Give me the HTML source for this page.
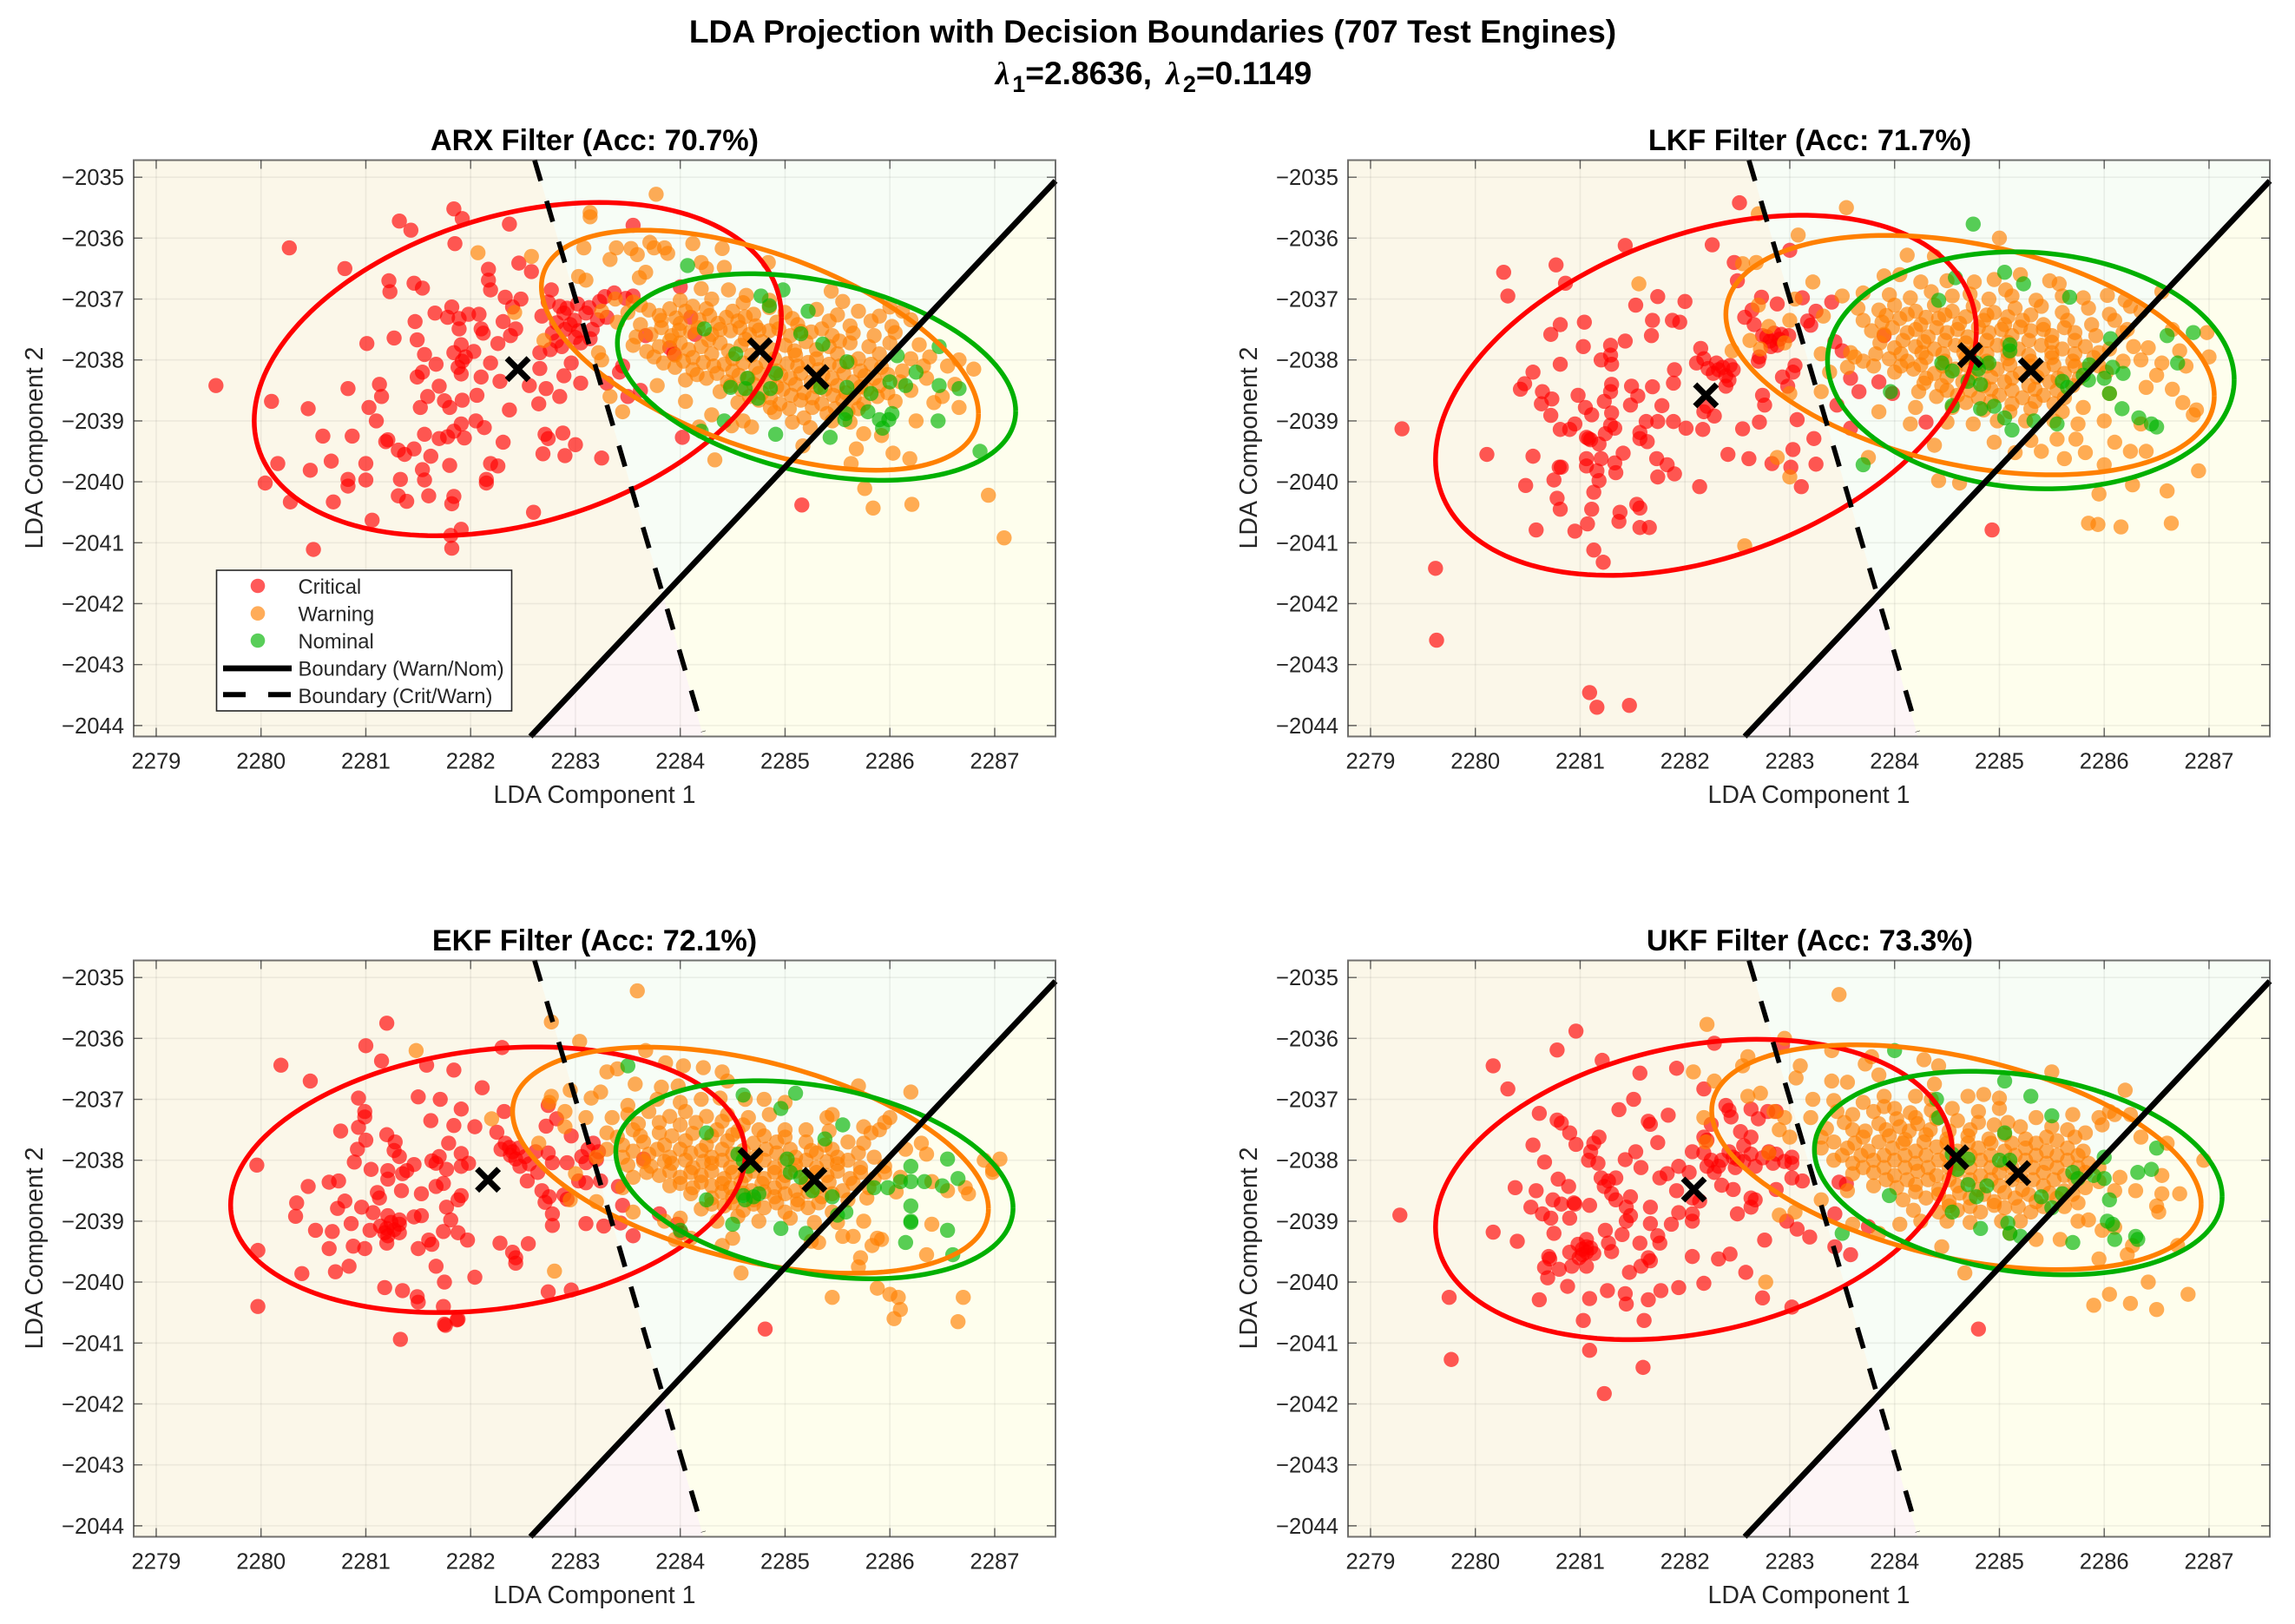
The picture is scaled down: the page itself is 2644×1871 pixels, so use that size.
<!DOCTYPE html>
<html lang="en">
<head>
<meta charset="utf-8">
<title>LDA Projection with Decision Boundaries</title>
<style>
html,body{margin:0;padding:0;background:#fff;}
svg{display:block;}
text{font-family:"Liberation Sans",sans-serif;}
.suptitle{font-size:37.2px;font-weight:bold;fill:#000;text-anchor:middle;}
.ptitle{font-size:34.2px;font-weight:bold;fill:#000;text-anchor:middle;}
.alabel{font-size:28.5px;fill:#262626;text-anchor:middle;}
.legtext{font-size:23.8px;fill:#262626;}
</style>
</head>
<body>
<svg id="figure" xmlns="http://www.w3.org/2000/svg" width="2644" height="1871" viewBox="0 0 2644 1871">
<rect x="0" y="0" width="2644" height="1871" fill="#fff"/>
<text class="suptitle" x="1328" y="49">LDA Projection with Decision Boundaries (707 Test Engines)</text>
<text class="suptitle" x="1329" y="97"><tspan style="font-family:'Liberation Serif',serif;font-style:italic">λ</tspan><tspan dx="3" dy="9" font-size="27">1</tspan><tspan dy="-9">=2.8636, </tspan><tspan dx="6" style="font-family:'Liberation Serif',serif;font-style:italic">λ</tspan><tspan dx="3" dy="9" font-size="27">2</tspan><tspan dy="-9">=0.1149</tspan></text>

<g id="panel-arx">
<text class="ptitle" x="685" y="173">ARX Filter (Acc: 70.7%)</text>
<text class="alabel" x="685" y="925">LDA Component 1</text>
<text class="alabel" transform="translate(49 516) rotate(-90)">LDA Component 2</text>
</g>
<g id="panel-lkf">
<text class="ptitle" x="2085" y="173">LKF Filter (Acc: 71.7%)</text>
<text class="alabel" x="2084" y="925">LDA Component 1</text>
<text class="alabel" transform="translate(1448 516) rotate(-90)">LDA Component 2</text>
</g>
<g id="panel-ekf">
<text class="ptitle" x="685" y="1095">EKF Filter (Acc: 72.1%)</text>
<text class="alabel" x="685" y="1847">LDA Component 1</text>
<text class="alabel" transform="translate(49 1438) rotate(-90)">LDA Component 2</text>
</g>
<g id="panel-ukf">
<text class="ptitle" x="2085" y="1095">UKF Filter (Acc: 73.3%)</text>
<text class="alabel" x="2084" y="1847">LDA Component 1</text>
<text class="alabel" transform="translate(1448 1438) rotate(-90)">LDA Component 2</text>
</g>

<g id="legend">
<rect x="249.5" y="657" width="340" height="162" fill="#fff" stroke="#262626" stroke-width="1.6"/>
<circle cx="297" cy="675" r="8.3" fill="#ff0000" fill-opacity="0.65"/>
<circle cx="297" cy="706.7" r="8.3" fill="#ff8000" fill-opacity="0.65"/>
<circle cx="297" cy="738" r="8.3" fill="#00b400" fill-opacity="0.65"/>
<line x1="257" y1="770" x2="336" y2="770" stroke="#000" stroke-width="6.7"/>
<line x1="257" y1="800.3" x2="336" y2="800.3" stroke="#000" stroke-width="6" stroke-dasharray="26 26"/>
<text class="legtext" x="343.5" y="684">Critical</text>
<text class="legtext" x="343.5" y="715.5">Warning</text>
<text class="legtext" x="343.5" y="747">Nominal</text>
<text class="legtext" x="343.5" y="778.5">Boundary (Warn/Nom)</text>
<text class="legtext" x="343.5" y="810">Boundary (Crit/Warn)</text>
</g>
</svg>

<script>
const xTicks=[2279,2280,2281,2282,2283,2284,2285,2286,2287];
const yTicks=[-2035,-2036,-2037,-2038,-2039,-2040,-2041,-2042,-2043,-2044];
const xTickLabels=["2279","2280","2281","2282","2283","2284","2285","2286","2287"];
const yTickLabels=["\u22122035","\u22122036","\u22122037","\u22122038","\u22122039","\u22122040","\u22122041","\u22122042","\u22122043","\u22122044"];
const xLimits=[2278.785,2287.58];
const yLimits=[-2044.18,-2034.72];

const boundaryWarnNom=[[2282.57,-2044.18],[2287.58,-2035.06]];
const boundaryCritWarn=[[2282.61,-2034.72],[2284.22,-2044.1]];

/* ellipse: centre x, centre y, half-width, half-height, correlation */
const arxEllipseCritical=[2282.45,-2038.15,2.515,2.735,0.31];
const arxEllipseWarning=[2284.76,-2037.84,2.085,1.97,-0.53];
const arxEllipseNominal=[2285.3,-2038.28,1.9,1.695,-0.33];
const lkfEllipseCritical=[2282.2,-2038.58,2.58,2.955,0.357];
const lkfEllipseWarning=[2284.72,-2037.92,2.33,1.965,-0.34];
const lkfEllipseNominal=[2285.3,-2038.17,1.94,1.945,-0.08];
const ekfEllipseCritical=[2282.165,-2038.32,2.455,2.18,0.19];
const ekfEllipseWarning=[2284.67,-2038.0,2.27,1.855,-0.43];
const ekfEllipseNominal=[2285.28,-2038.32,1.895,1.625,-0.285];
const ukfEllipseCritical=[2282.085,-2038.48,2.465,2.465,0.25];
const ukfEllipseWarning=[2284.59,-2037.95,2.335,1.845,-0.415];
const ukfEllipseNominal=[2285.18,-2038.21,1.945,1.67,-0.23];

const arxCritical=[[2281.84,-2035.52],[2281.92,-2035.68],[2281.32,-2035.72],[2281.43,-2035.87],[2282.37,-2035.77],[2280.27,-2036.16],[2281.85,-2036.09],[2283.55,-2035.79],[2280.8,-2036.5],[2282.17,-2036.51],[2282.46,-2036.41],[2282.58,-2036.55],[2282.17,-2036.69],[2281.22,-2036.7],[2281.46,-2036.74],[2281.54,-2036.82],[2281.23,-2036.88],[2282.19,-2036.85],[2282.33,-2036.97],[2282.48,-2037],[2282.77,-2036.85],[2281.66,-2037.23],[2281.82,-2037.13],[2281.78,-2037.3],[2281.89,-2037.32],[2281.98,-2037.25],[2282.08,-2037.25],[2281.47,-2037.37],[2281.89,-2037.49],[2282.1,-2037.49],[2282.12,-2037.56],[2282.31,-2037.37],[2282.43,-2037.49],[2282.38,-2037.6],[2282.4,-2037.13],[2281.27,-2037.64],[2281.49,-2037.67],[2281.01,-2037.73],[2282.26,-2037.73],[2281.91,-2037.75],[2281.84,-2037.88],[2282.03,-2037.86],[2281.56,-2037.91],[2281.92,-2038.02],[2282.19,-2038.05],[2281.67,-2038.07],[2282.66,-2037.88],[2282.76,-2037.83],[2282.96,-2038.05],[2281.54,-2038.2],[2281.49,-2038.28],[2281.91,-2038.23],[2282.1,-2038.28],[2282.28,-2038.35],[2282.66,-2038.14],[2282.89,-2038.26],[2283.05,-2038.38],[2282.56,-2038.42],[2282.72,-2038.47],[2279.57,-2038.42],[2280.83,-2038.47],[2281.13,-2038.4],[2281.7,-2038.43],[2281.15,-2038.6],[2281.59,-2038.6],[2282.06,-2038.58],[2280.1,-2038.68],[2281.75,-2038.67],[2281.92,-2038.66],[2281.8,-2038.78],[2281.52,-2038.78],[2280.45,-2038.8],[2281.03,-2038.78],[2282.65,-2038.72],[2282.85,-2038.6],[2282.37,-2038.82],[2282.68,-2037.28],[2282.89,-2037.23],[2282.82,-2037.39],[2282.99,-2037.35],[2283.1,-2037.23],[2283.23,-2037.04],[2283.37,-2036.9],[2283.48,-2036.99],[2283.3,-2037.3],[2282.82,-2037.69],[2283.03,-2037.52],[2283.16,-2037.5],[2283.55,-2036.95],[2283.9,-2037.8],[2283.94,-2037.9],[2284.14,-2037.58],[2284.1,-2037.3],[2284,-2036.8],[2283.14,-2037.65],[2283.45,-2038.1],[2283.42,-2038.2],[2283.67,-2037.6],[2282.92,-2037.15],[2282.95,-2037.42],[2283.05,-2037.72],[2283.3,-2038.38],[2283.5,-2038.6],[2283.62,-2038.5],[2280.59,-2039.25],[2280.87,-2039.25],[2281.1,-2039],[2281.19,-2039.34],[2281.21,-2039.31],[2281.31,-2039.48],[2281.46,-2039.46],[2281.37,-2039.55],[2281.56,-2039.22],[2281.7,-2039.29],[2281.78,-2039.26],[2281.84,-2039.17],[2281.91,-2039.05],[2281.94,-2039.28],[2282.05,-2039],[2282.13,-2039.11],[2282.31,-2039.35],[2282.71,-2039.22],[2282.74,-2039.29],[2282.88,-2039.2],[2283,-2039.39],[2282.69,-2039.54],[2282.9,-2039.57],[2283.25,-2039.61],[2280.16,-2039.7],[2280.47,-2039.81],[2280.67,-2039.66],[2281,-2039.7],[2281.62,-2039.58],[2281.8,-2039.73],[2281.54,-2039.8],[2282.19,-2039.7],[2282.26,-2039.74],[2280.83,-2039.96],[2280.83,-2040.07],[2281,-2039.97],[2281.33,-2039.96],[2281.56,-2039.97],[2282.15,-2039.96],[2282.15,-2040.02],[2280.04,-2040.02],[2280.28,-2040.33],[2280.69,-2040.33],[2281.31,-2040.23],[2281.39,-2040.32],[2281.6,-2040.23],[2281.84,-2040.24],[2281.82,-2040.36],[2282.6,-2040.5],[2281.06,-2040.63],[2281.91,-2040.78],[2281.81,-2040.88],[2281.82,-2041.09],[2280.5,-2041.11],[2284.02,-2039.27],[2285.16,-2040.38],[2282.74,-2037.05],[2282.85,-2037.12],[2283.02,-2037.08],[2283.13,-2037.14],[2283.28,-2036.96],[2282.9,-2037.5],[2282.78,-2037.56],[2283.21,-2037.34],[2283.0,-2037.63],[2282.87,-2037.78],[2281.95,-2037.95],[2281.88,-2038.12]];
const arxWarning=[[2283.77,-2035.28],[2283.14,-2035.58],[2283.14,-2035.65],[2283.08,-2036.16],[2283.39,-2036.16],[2283.53,-2036.17],[2283.71,-2036.07],[2283.75,-2036.16],[2283.85,-2036.16],[2283.88,-2036.25],[2283.59,-2036.27],[2283.33,-2036.35],[2284.12,-2036.09],[2284.4,-2036.17],[2282.07,-2036.24],[2282.58,-2036.3],[2284.84,-2036.4],[2284.2,-2036.4],[2284.42,-2036.48],[2284.25,-2036.5],[2283.67,-2036.56],[2283.61,-2036.65],[2283.03,-2036.63],[2283.1,-2036.69],[2284.2,-2036.83],[2284.46,-2036.85],[2284.63,-2036.94],[2285.44,-2036.87],[2285.55,-2037.04],[2283.38,-2037],[2283.55,-2037.05],[2284,-2037.02],[2284.3,-2037],[2284.6,-2037.06],[2284.85,-2037.02],[2283.25,-2037.2],[2283.5,-2037.22],[2283.7,-2037.18],[2283.9,-2037.16],[2284.05,-2037.2],[2284.25,-2037.16],[2284.5,-2037.2],[2284.7,-2037.25],[2285,-2037.22],[2285.3,-2037.17],[2285.5,-2037.26],[2285.7,-2037.2],[2285.9,-2037.28],[2286,-2037.13],[2286.12,-2037.2],[2282.42,-2037.22],[2283.4,-2037.38],[2283.62,-2037.42],[2283.82,-2037.35],[2284,-2037.4],[2284.18,-2037.34],[2284.36,-2037.4],[2284.55,-2037.36],[2284.72,-2037.44],[2284.92,-2037.38],[2285.12,-2037.42],[2285.42,-2037.36],[2285.62,-2037.44],[2285.82,-2037.36],[2286.02,-2037.45],[2286.2,-2037.34],[2283.72,-2037.58],[2283.92,-2037.6],[2284.1,-2037.54],[2284.3,-2037.58],[2284.48,-2037.52],[2284.66,-2037.58],[2284.85,-2037.52],[2285.05,-2037.6],[2285.25,-2037.54],[2285.45,-2037.6],[2285.65,-2037.56],[2285.85,-2037.6],[2286.05,-2037.55],[2282.7,-2037.68],[2283.22,-2037.88],[2283.55,-2037.76],[2283.8,-2037.78],[2284,-2037.72],[2284.2,-2037.78],[2284.38,-2037.72],[2284.58,-2037.76],[2284.78,-2037.7],[2285,-2037.76],[2285.2,-2037.7],[2285.42,-2037.78],[2285.62,-2037.72],[2285.8,-2037.78],[2286,-2037.72],[2286.28,-2037.75],[2283.25,-2038],[2283.75,-2037.95],[2283.95,-2037.92],[2284.12,-2037.96],[2284.3,-2037.9],[2284.5,-2037.98],[2284.68,-2037.92],[2284.9,-2037.98],[2285.1,-2037.92],[2285.3,-2037.98],[2285.5,-2037.9],[2285.7,-2037.98],[2285.9,-2037.9],[2286.2,-2037.98],[2286.38,-2037.95],[2283.95,-2038.12],[2284.12,-2038.16],[2284.32,-2038.1],[2284.5,-2038.18],[2284.72,-2038.12],[2284.92,-2038.18],[2285.12,-2038.1],[2285.32,-2038.16],[2285.52,-2038.1],[2285.72,-2038.18],[2285.92,-2038.12],[2286.12,-2038.18],[2286.32,-2038.1],[2286.55,-2038.1],[2286.66,-2038],[2286.8,-2038.15],[2284.05,-2038.33],[2284.25,-2038.3],[2284.45,-2038.36],[2284.65,-2038.3],[2284.85,-2038.36],[2285.05,-2038.3],[2285.25,-2038.36],[2285.45,-2038.3],[2285.65,-2038.36],[2285.85,-2038.3],[2286.1,-2038.36],[2286.35,-2038.3],[2286.62,-2038.4],[2283.78,-2038.42],[2284.38,-2038.52],[2284.58,-2038.48],[2284.78,-2038.54],[2284.98,-2038.48],[2285.18,-2038.54],[2285.38,-2038.48],[2285.58,-2038.54],[2285.78,-2038.48],[2285.98,-2038.54],[2286.2,-2038.5],[2286.5,-2038.6],[2283.33,-2038.6],[2284.05,-2038.68],[2284.55,-2038.7],[2284.75,-2038.66],[2284.95,-2038.72],[2285.15,-2038.66],[2285.35,-2038.72],[2285.55,-2038.66],[2285.75,-2038.72],[2286.05,-2038.68],[2286.42,-2038.7],[2286.66,-2038.78],[2283.45,-2038.85],[2284.18,-2039.1],[2284.33,-2039.64],[2284.49,-2039.08],[2284.6,-2039],[2284.68,-2039.1],[2284.3,-2038.9],[2284.9,-2038.86],[2285.07,-2039.02],[2285.24,-2039.11],[2285.4,-2038.88],[2285.6,-2038.84],[2285.17,-2039.41],[2285.68,-2039.46],[2285.75,-2039.21],[2285.92,-2039.24],[2286.03,-2039.53],[2286.19,-2039.62],[2285.63,-2039.7],[2285.76,-2040.11],[2286.21,-2040.37],[2285.84,-2040.43],[2286.94,-2040.22],[2287.09,-2040.92],[2286.25,-2039]];
const arxWarningDense=[[2283.62,-2037.1],[2283.8,-2037.27],[2283.96,-2037.31],[2284.12,-2037.12],[2284.28,-2037.27],[2284.44,-2037.3],[2284.62,-2037.29],[2284.85,-2037.14],[2285.07,-2037.32],[2283.58,-2037.62],[2283.82,-2037.47],[2283.99,-2037.51],[2284.17,-2037.47],[2284.38,-2037.5],[2284.57,-2037.47],[2284.75,-2037.51],[2284.94,-2037.49],[2285.15,-2037.53],[2285.35,-2037.49],[2283.68,-2037.86],[2283.9,-2037.68],[2284.08,-2037.83],[2284.27,-2037.67],[2284.46,-2037.85],[2284.62,-2037.66],[2284.87,-2037.83],[2285.09,-2037.85],[2285.3,-2037.83],[2285.52,-2037.69],[2283.84,-2038.05],[2284.03,-2038.02],[2284.22,-2038.04],[2284.42,-2038.07],[2284.6,-2038.05],[2284.82,-2038.03],[2285.02,-2038.06],[2285.22,-2038.04],[2285.42,-2038.07],[2285.62,-2038.04],[2285.82,-2038.07],[2284.16,-2038.24],[2284.35,-2038.22],[2284.56,-2038.25],[2284.75,-2038.22],[2284.96,-2038.25],[2285.15,-2038.22],[2285.36,-2038.25],[2285.56,-2038.22],[2285.76,-2038.26],[2285.98,-2038.24],[2284.48,-2038.42],[2284.7,-2038.4],[2284.92,-2038.44],[2285.1,-2038.4],[2285.3,-2038.44],[2285.5,-2038.42],[2285.72,-2038.44],[2285.9,-2038.42],[2284.66,-2038.6],[2284.86,-2038.62],[2285.06,-2038.58],[2285.26,-2038.62],[2285.46,-2038.58],[2285.66,-2038.62],[2285.88,-2038.6],[2284.86,-2038.78],[2285.04,-2038.8],[2285.26,-2038.78],[2285.48,-2038.8],[2285.7,-2038.8],[2285.18,-2038.95],[2285.45,-2039],[2285.62,-2039.02]];
const arxNominal=[[2284.07,-2036.45],[2284.77,-2036.95],[2284.98,-2036.85],[2284.85,-2037.11],[2285.22,-2037.2],[2284.23,-2037.49],[2285.15,-2037.57],[2285.36,-2037.74],[2284.53,-2037.9],[2286.47,-2037.78],[2286.07,-2037.93],[2285.59,-2038.03],[2286.25,-2038.2],[2284.64,-2038.3],[2284.48,-2038.45],[2284.62,-2038.47],[2284.91,-2038.22],[2284.86,-2038.47],[2285.34,-2038.45],[2285.59,-2038.45],[2286,-2038.36],[2286.15,-2038.42],[2286.47,-2038.42],[2286.66,-2038.47],[2285.82,-2038.55],[2284.74,-2038.63],[2286.02,-2038.88],[2285.58,-2038.88],[2285.79,-2038.85],[2285.57,-2038.98],[2285.99,-2038.98],[2285.9,-2038.98],[2285.93,-2039.12],[2286.46,-2039],[2284.91,-2039.22],[2285.43,-2039.27],[2286.86,-2039.5],[2284.2,-2039.17],[2284.42,-2039]];

const lkfCritical=[[2282.52,-2035.42],[2281.43,-2036.12],[2282.26,-2036.11],[2283,-2036.2],[2280.77,-2036.44],[2282.47,-2036.4],[2280.27,-2036.56],[2280.86,-2036.74],[2280.31,-2036.95],[2281.74,-2036.96],[2281.53,-2037.1],[2282,-2037.04],[2282.73,-2036.97],[2283.12,-2036.98],[2282.5,-2036.7],[2283.4,-2037.05],[2281.69,-2037.35],[2281.88,-2037.35],[2281.95,-2037.38],[2281.04,-2037.38],[2280.81,-2037.42],[2280.72,-2037.58],[2281.68,-2037.6],[2281.43,-2037.69],[2281.03,-2037.78],[2281.29,-2037.76],[2280.81,-2038.07],[2281.2,-2038],[2281.3,-2038.07],[2281.29,-2037.92],[2280.55,-2038.2],[2280.47,-2038.39],[2280.43,-2038.48],[2280.64,-2038.52],[2280.73,-2038.64],[2280.63,-2038.72],[2280.98,-2038.58],[2281.23,-2038.68],[2281.3,-2038.4],[2281.29,-2038.52],[2281.49,-2038.43],[2281.69,-2038.44],[2281.55,-2038.59],[2281.89,-2038.38],[2281.9,-2038.16],[2281.48,-2038.74],[2281.78,-2038.75],[2281.05,-2038.78],[2281.11,-2038.9],[2280.72,-2038.91],[2281.3,-2038.87],[2281.63,-2039.01],[2281.74,-2039.01],[2281.89,-2039.01],[2280.95,-2039.05],[2280.81,-2039.14],[2280.9,-2039.14],[2281.33,-2039.12],[2281.29,-2039.07],[2282.01,-2039.12],[2282.17,-2039.14],[2279.3,-2039.13],[2281.08,-2039.29],[2281.1,-2039.31],[2281.06,-2039.27],[2281.24,-2039.21],[2281.57,-2039.19],[2281.57,-2039.29],[2281.64,-2039.34],[2281.18,-2039.38],[2281.41,-2039.53],[2280.11,-2039.55],[2280.55,-2039.58],[2281.06,-2039.62],[2281.2,-2039.62],[2281.73,-2039.62],[2280.8,-2039.76],[2280.82,-2039.76],[2281.06,-2039.74],[2281.33,-2039.69],[2281.83,-2039.72],[2281.9,-2039.87],[2281.74,-2039.92],[2281.16,-2039.82],[2281.34,-2039.85],[2280.75,-2039.97],[2281.18,-2039.98],[2282.14,-2040.08],[2280.48,-2040.06],[2281.13,-2040.17],[2280.78,-2040.27],[2281.54,-2040.37],[2281.57,-2040.43],[2280.81,-2040.45],[2281.11,-2040.45],[2281.38,-2040.5],[2283.11,-2040.08],[2282.41,-2039.55],[2282.61,-2039.62],[2282.83,-2039.7],[2283.01,-2039.76],[2283.25,-2039.71],[2283.03,-2039.47],[2283.23,-2039.29],[2282.55,-2039.13],[2282.71,-2039.02],[2283.07,-2038.98],[2284.3,-2039.02],[2283.58,-2039.12],[2283.45,-2038.74],[2282.15,-2037.81],[2282.11,-2038.05],[2282.22,-2038.14],[2282.32,-2038.16],[2282.43,-2038.09],[2282.39,-2038.26],[2282.46,-2038.16],[2282.39,-2038.43],[2282.18,-2038.85],[2282.28,-2038.92],[2282.21,-2038.76],[2282.74,-2037.6],[2282.85,-2037.56],[2282.81,-2037.69],[2282.99,-2037.6],[2282.88,-2037.76],[2282.71,-2037.95],[2282.7,-2038.02],[2283.05,-2038.09],[2283.03,-2038.2],[2282.93,-2038.28],[2283.17,-2037.36],[2283.2,-2037.43],[2283.25,-2037.2],[2282.88,-2037.08],[2282.64,-2037.18],[2282.57,-2037.3],[2282.66,-2037.42],[2282.74,-2038.58],[2282.76,-2038.74],[2282.98,-2038.43],[2283.66,-2038.52],[2283.58,-2038.3],[2283.5,-2037.85],[2283.9,-2037.6],[2283.43,-2037.7],[2283.85,-2038.36],[2283.98,-2038.55],[2279.62,-2041.42],[2279.63,-2042.6],[2281.09,-2043.46],[2281.16,-2043.7],[2281.47,-2043.67],[2281.13,-2041.12],[2281.22,-2041.32],[2280.58,-2040.79],[2280.95,-2040.81],[2281.07,-2040.69],[2281.57,-2040.75],[2281.66,-2040.75],[2281.37,-2040.65],[2284.93,-2040.79],[2282.78,-2037.62],[2282.9,-2037.66],[2282.82,-2037.78],[2282.92,-2037.58],[2282.3,-2038.05],[2282.36,-2038.12],[2282.27,-2038.22],[2282.42,-2038.33],[2282.18,-2037.98]];
const lkfWarning=[[2283.54,-2035.5],[2282.7,-2035.6],[2283.08,-2035.95],[2285.0,-2036],[2284.12,-2036.28],[2284.38,-2036.3],[2282.55,-2036.42],[2282.68,-2036.4],[2281.56,-2036.75],[2284.05,-2036.6],[2283.22,-2036.72],[2283.9,-2036.62],[2284.25,-2036.72],[2284.5,-2036.7],[2284.76,-2036.72],[2284.95,-2036.68],[2285.2,-2036.6],[2285.48,-2036.7],[2285.57,-2036.75],[2285.06,-2036.85],[2283.05,-2037],[2283.5,-2036.95],[2283.7,-2036.9],[2283.95,-2036.93],[2284.15,-2036.98],[2284.35,-2036.88],[2284.55,-2036.95],[2284.72,-2036.92],[2284.9,-2037],[2285.12,-2036.95],[2285.35,-2037.02],[2285.6,-2036.95],[2285.8,-2036.98],[2286.03,-2036.94],[2286.2,-2037.02],[2286.55,-2036.88],[2282.7,-2037.1],[2283.32,-2037.28],[2283.65,-2037.15],[2283.85,-2037.18],[2284,-2037.1],[2284.2,-2037.2],[2284.38,-2037.1],[2284.55,-2037.2],[2284.75,-2037.12],[2284.95,-2037.22],[2285.15,-2037.15],[2285.4,-2037.12],[2285.6,-2037.22],[2285.85,-2037.15],[2286.05,-2037.25],[2286.25,-2037.12],[2286.35,-2037.2],[2282.8,-2037.45],[2283.0,-2037.35],[2283.7,-2037.35],[2283.88,-2037.38],[2284.05,-2037.32],[2284.25,-2037.42],[2284.42,-2037.32],[2284.62,-2037.4],[2284.85,-2037.35],[2285.05,-2037.42],[2285.22,-2037.35],[2285.42,-2037.42],[2285.65,-2037.35],[2285.88,-2037.42],[2286.1,-2037.35],[2286.22,-2037.5],[2282.62,-2037.68],[2282.95,-2037.72],[2283.9,-2037.58],[2284.12,-2037.55],[2284.32,-2037.62],[2284.5,-2037.55],[2284.7,-2037.62],[2284.9,-2037.55],[2285.12,-2037.6],[2285.3,-2037.52],[2285.5,-2037.6],[2285.72,-2037.55],[2285.92,-2037.6],[2286.18,-2037.55],[2286.65,-2037.5],[2286.98,-2037.55],[2282.45,-2037.85],[2282.72,-2037.82],[2283.3,-2037.9],[2283.58,-2037.88],[2284,-2037.8],[2284.2,-2037.78],[2284.38,-2037.82],[2284.58,-2037.76],[2284.78,-2037.82],[2284.98,-2037.76],[2285.18,-2037.82],[2285.4,-2037.76],[2285.6,-2037.82],[2285.82,-2037.78],[2286.05,-2037.82],[2286.28,-2037.78],[2286.42,-2037.8],[2286.72,-2037.85],[2287.0,-2037.95],[2283.7,-2038.02],[2283.95,-2037.98],[2284.12,-2038.02],[2284.3,-2037.96],[2284.48,-2038.02],[2284.68,-2037.96],[2284.88,-2038.02],[2285.08,-2037.98],[2285.3,-2038.02],[2285.5,-2037.96],[2285.7,-2038.02],[2285.9,-2037.96],[2286.18,-2038.02],[2286.35,-2038],[2286.55,-2038.05],[2286.78,-2038.1],[2283.38,-2038.2],[2283.55,-2038.12],[2284,-2038.2],[2284.18,-2038.15],[2284.38,-2038.22],[2284.58,-2038.15],[2284.78,-2038.22],[2284.98,-2038.15],[2285.2,-2038.22],[2285.42,-2038.15],[2285.62,-2038.22],[2285.82,-2038.15],[2286.02,-2038.2],[2286.5,-2038.25],[2283.3,-2038.52],[2283.0,-2038.55],[2284.28,-2038.38],[2284.45,-2038.42],[2284.65,-2038.36],[2284.85,-2038.42],[2285.05,-2038.36],[2285.28,-2038.42],[2285.48,-2038.36],[2285.7,-2038.42],[2286.4,-2038.45],[2286.65,-2038.48],[2284.23,-2038.52],[2284.4,-2038.6],[2284.6,-2038.58],[2284.8,-2038.62],[2285,-2038.58],[2285.22,-2038.62],[2285.42,-2038.58],[2285.62,-2038.62],[2286.05,-2038.55],[2286.75,-2038.7],[2286.88,-2038.82],[2283.85,-2038.85],[2284.2,-2038.78],[2284.55,-2038.78],[2284.85,-2038.82],[2285.1,-2038.85],[2285.3,-2038.8],[2285.6,-2038.85],[2285.8,-2038.78],[2286.85,-2038.9],[2284.15,-2039.05],[2284.5,-2039.02],[2284.75,-2039.05],[2284.98,-2039],[2285.25,-2039.0],[2285.52,-2039],[2285.75,-2039.05],[2286,-2039],[2286.35,-2039.05],[2284.95,-2039.35],[2285.3,-2039.32],[2285.55,-2039.3],[2285.73,-2039.3],[2286.1,-2039.35],[2283.0,-2039.92],[2282.88,-2039.6],[2283.75,-2039.6],[2284.38,-2039.4],[2285.15,-2039.52],[2285.4,-2039.5],[2285.82,-2039.52],[2285.62,-2039.62],[2286.0,-2039.72],[2286.25,-2039.5],[2286.4,-2039.5],[2284.42,-2039.98],[2284.62,-2040.02],[2285.95,-2040.2],[2286.27,-2040.05],[2286.6,-2040.15],[2286.9,-2039.82],[2285.85,-2040.68],[2285.94,-2040.7],[2286.16,-2040.74],[2286.64,-2040.68],[2282.57,-2041.05]];
const lkfWarningDense=[[2283.92,-2037.27],[2284.12,-2037.25],[2284.3,-2037.3],[2284.48,-2037.26],[2284.68,-2037.29],[2284.88,-2037.26],[2285.08,-2037.29],[2285.3,-2037.26],[2283.78,-2037.52],[2283.98,-2037.47],[2284.2,-2037.5],[2284.4,-2037.47],[2284.6,-2037.5],[2284.8,-2037.46],[2285.02,-2037.5],[2285.2,-2037.46],[2285.42,-2037.5],[2285.62,-2037.47],[2283.86,-2037.72],[2284.08,-2037.68],[2284.28,-2037.7],[2284.48,-2037.68],[2284.68,-2037.72],[2284.88,-2037.68],[2285.08,-2037.71],[2285.28,-2037.68],[2285.5,-2037.71],[2285.72,-2037.68],[2283.62,-2037.95],[2283.82,-2037.9],[2284.06,-2037.9],[2284.26,-2037.88],[2284.46,-2037.9],[2284.66,-2037.88],[2284.88,-2037.9],[2285.08,-2037.88],[2285.28,-2037.92],[2285.5,-2037.88],[2285.72,-2037.9],[2285.95,-2037.88],[2283.8,-2038.1],[2284.06,-2038.1],[2284.25,-2038.08],[2284.46,-2038.1],[2284.68,-2038.08],[2284.88,-2038.1],[2285.1,-2038.08],[2285.3,-2038.1],[2285.52,-2038.08],[2285.72,-2038.1],[2285.95,-2038.1],[2284.3,-2038.3],[2284.5,-2038.28],[2284.72,-2038.3],[2284.92,-2038.28],[2285.12,-2038.3],[2285.36,-2038.28],[2285.56,-2038.3],[2285.76,-2038.3],[2284.5,-2038.5],[2284.72,-2038.5],[2284.92,-2038.48],[2285.12,-2038.5],[2285.34,-2038.48],[2285.55,-2038.5],[2284.68,-2038.7],[2284.92,-2038.68],[2285.12,-2038.72],[2285.34,-2038.68],[2285.52,-2038.72]];
const lkfNominal=[[2284.75,-2035.77],[2284.58,-2036.65],[2285.05,-2036.56],[2285.23,-2036.75],[2285.67,-2036.97],[2284.42,-2037.02],[2285.1,-2037.75],[2286.06,-2037.65],[2286.6,-2037.6],[2286.85,-2037.55],[2285.1,-2037.85],[2284.45,-2038.05],[2284.55,-2038.18],[2284.78,-2038.05],[2284.9,-2038.05],[2284.8,-2038.15],[2285.86,-2038.08],[2286.08,-2038.12],[2286.7,-2038.05],[2285.8,-2038.25],[2285.85,-2038.33],[2286.0,-2038.3],[2286.18,-2038.22],[2284.7,-2038.35],[2284.82,-2038.4],[2285.6,-2038.35],[2285.65,-2038.45],[2283.96,-2038.52],[2286.05,-2038.55],[2284.55,-2038.75],[2284.95,-2038.76],[2284.82,-2038.8],[2286.17,-2038.8],[2285.05,-2038.95],[2286.33,-2038.95],[2286.45,-2039.05],[2286.5,-2039.1],[2285.33,-2039],[2285.55,-2039.05],[2285.12,-2039.15],[2283.7,-2039.72]];

const ekfCritical=[[2281.2,-2035.75],[2281,-2036.12],[2282.3,-2036.15],[2281.15,-2036.37],[2280.19,-2036.44],[2281.58,-2036.44],[2281.84,-2036.52],[2280.47,-2036.7],[2282.11,-2036.81],[2281.5,-2036.96],[2281.71,-2037],[2280.93,-2036.98],[2281.91,-2037.16],[2280.99,-2037.2],[2280.99,-2037.29],[2282.32,-2037.2],[2282.74,-2037.1],[2281.62,-2037.35],[2281.84,-2037.43],[2282.04,-2037.45],[2280.93,-2037.46],[2280.76,-2037.52],[2281.2,-2037.58],[2281,-2037.67],[2282.25,-2037.54],[2282.72,-2037.44],[2282.82,-2037.32],[2282.96,-2037.6],[2281.28,-2037.7],[2281.79,-2037.72],[2280.92,-2037.82],[2281.27,-2037.84],[2282.33,-2037.72],[2282.29,-2037.82],[2282.4,-2037.86],[2282.43,-2037.98],[2282.47,-2038.1],[2282.37,-2037.79],[2281.91,-2037.89],[2281.7,-2037.94],[2281.63,-2038.01],[2281.32,-2037.94],[2280.89,-2038.03],[2279.96,-2038.08],[2281.05,-2038.15],[2281.21,-2038.17],[2281.35,-2038.22],[2281.39,-2038.17],[2281.21,-2038.31],[2281.46,-2038.07],[2281.67,-2038.05],[2281.77,-2038.15],[2281.91,-2038.1],[2281.98,-2038.05],[2280.45,-2038.43],[2280.65,-2038.36],[2280.74,-2038.34],[2280.34,-2038.7],[2280.33,-2038.92],[2280.8,-2038.67],[2280.73,-2038.79],[2280.96,-2038.77],[2281.11,-2038.53],[2281.13,-2038.62],[2281.34,-2038.5],[2281.53,-2038.55],[2281.67,-2038.43],[2281.74,-2038.38],[2281.91,-2038.58],[2281.88,-2038.65],[2281.53,-2038.91],[2281.46,-2038.93],[2281.77,-2038.77],[2281.07,-2038.86],[2281.21,-2038.91],[2281.32,-2038.98],[2281.14,-2039.08],[2281.32,-2039.05],[2281.18,-2039.19],[2281.21,-2039.24],[2281.32,-2039.19],[2280.86,-2039.04],[2280.52,-2039.15],[2280.68,-2039.17],[2281.04,-2039.15],[2281.81,-2038.98],[2281.74,-2039.17],[2281.88,-2039.19],[2281.97,-2039.31],[2279.97,-2039.48],[2280.65,-2039.45],[2280.88,-2039.41],[2280.99,-2039.45],[2281.2,-2039.36],[2281.5,-2039.45],[2281.6,-2039.31],[2281.63,-2039.38],[2282.28,-2039.36],[2282.55,-2039.37],[2282.4,-2039.51],[2282.43,-2039.6],[2282.43,-2039.69],[2281.67,-2039.74],[2280.84,-2039.74],[2280.71,-2039.83],[2280.39,-2039.86],[2281.75,-2040],[2282.04,-2039.92],[2281.18,-2040.09],[2281.35,-2040.14],[2281.49,-2040.24],[2282.74,-2040.16],[2282.96,-2040.13],[2279.97,-2040.4],[2281.74,-2040.4],[2281.88,-2040.61],[2281.75,-2040.69],[2281.33,-2040.94],[2281.76,-2040.71],[2281.87,-2040.62],[2281.5,-2040.33],[2284.81,-2040.77],[2283.45,-2038.74],[2283.1,-2039.04],[2283.27,-2039.08],[2283.43,-2039.03],[2283.55,-2039.24],[2282.78,-2038.88],[2282.78,-2039.07],[2283.97,-2039.05],[2283.8,-2038.88],[2284.01,-2039.19],[2283.17,-2037.72],[2283.2,-2037.99],[2283.1,-2038.04],[2283.1,-2038.37],[2283.24,-2038.34],[2283.03,-2038.34],[2283.41,-2038.43],[2282.92,-2038.04],[2282.78,-2038.04],[2282.64,-2038.2],[2282.54,-2038.34],[2282.68,-2038.5],[2282.75,-2038.6],[2282.89,-2038.57],[2282.71,-2038.69],[2282.92,-2038.64],[2283.65,-2037.98],[2282.38,-2037.92],[2282.46,-2037.8],[2282.52,-2037.94],[2282.56,-2038.06],[2282.62,-2037.86],[2282.74,-2037.88],[2283.12,-2037.82],[2283.22,-2037.86],[2283.06,-2037.94],[2281.2,-2039.12],[2281.27,-2039.14],[2281.24,-2039.02]];
const ekfWarning=[[2283.59,-2035.22],[2282.77,-2035.73],[2283.04,-2036.05],[2281.48,-2036.2],[2283.67,-2036.2],[2283.86,-2036.4],[2284.03,-2036.45],[2284.22,-2036.48],[2284.4,-2036.55],[2283.4,-2036.5],[2283.3,-2036.55],[2284.45,-2036.7],[2285.7,-2036.78],[2286.2,-2036.88],[2283.57,-2036.75],[2283.82,-2036.8],[2283.98,-2036.78],[2282.95,-2036.85],[2283.15,-2036.98],[2283.24,-2036.88],[2282.77,-2036.95],[2282.75,-2037.05],[2283.5,-2037.1],[2283.78,-2037],[2284.0,-2037.05],[2284.2,-2037],[2284.38,-2036.98],[2284.62,-2037],[2284.8,-2037],[2285,-2037.05],[2282.2,-2037.32],[2282.9,-2037.2],[2283.1,-2037.3],[2283.35,-2037.3],[2283.5,-2037.25],[2283.7,-2037.2],[2283.9,-2037.28],[2284.05,-2037.2],[2284.25,-2037.28],[2284.45,-2037.25],[2284.65,-2037.3],[2284.85,-2037.25],[2285.4,-2037.3],[2285.45,-2037.25],[2285.75,-2037.45],[2285.95,-2037.38],[2286.0,-2037.3],[2282.9,-2037.45],[2283.3,-2037.55],[2283.55,-2037.5],[2283.8,-2037.55],[2284.35,-2037.5],[2284.55,-2037.52],[2284.75,-2037.5],[2285,-2037.5],[2285.2,-2037.5],[2285.42,-2037.52],[2285.82,-2037.55],[2285.9,-2037.5],[2286.3,-2037.72],[2282.65,-2037.72],[2283.45,-2037.75],[2283.65,-2037.7],[2283.85,-2037.75],[2284.05,-2037.68],[2284.25,-2037.75],[2284.45,-2037.68],[2284.7,-2037.72],[2284.92,-2037.7],[2285.2,-2037.7],[2285.38,-2037.75],[2285.6,-2037.7],[2285.75,-2037.72],[2286.35,-2037.9],[2286.15,-2037.82],[2283.2,-2037.95],[2283.45,-2037.95],[2283.7,-2037.9],[2283.9,-2037.95],[2284.1,-2037.88],[2284.3,-2037.95],[2284.5,-2037.9],[2284.72,-2037.95],[2284.92,-2037.88],[2285.1,-2037.95],[2285.3,-2037.88],[2285.5,-2037.95],[2285.7,-2037.88],[2285.85,-2037.95],[2287.05,-2037.98],[2286.9,-2038],[2283.5,-2038.08],[2283.72,-2038.1],[2283.92,-2038.05],[2284.12,-2038.12],[2284.3,-2038.05],[2284.48,-2038.12],[2284.68,-2038.08],[2284.9,-2038.12],[2285.1,-2038.08],[2285.3,-2038.12],[2285.5,-2038.06],[2285.72,-2038.12],[2285.95,-2038.1],[2286.98,-2038.15],[2286.98,-2038.2],[2283.0,-2038.22],[2283.55,-2038.28],[2283.8,-2038.25],[2284,-2038.28],[2284.2,-2038.25],[2284.42,-2038.3],[2284.62,-2038.25],[2284.8,-2038.3],[2285,-2038.25],[2285.2,-2038.3],[2285.4,-2038.25],[2285.62,-2038.3],[2285.85,-2038.3],[2286.1,-2038.28],[2286.4,-2038.35],[2286.72,-2038.45],[2282.95,-2038.65],[2283.2,-2038.68],[2283.45,-2038.45],[2283.9,-2038.42],[2284.12,-2038.45],[2284.3,-2038.42],[2284.48,-2038.45],[2284.68,-2038.5],[2284.9,-2038.45],[2285.1,-2038.5],[2285.3,-2038.45],[2285.55,-2038.5],[2285.8,-2038.45],[2286.06,-2038.52],[2286.55,-2038.5],[2286.75,-2038.55],[2284.3,-2038.62],[2284.5,-2038.6],[2284.7,-2038.65],[2284.9,-2038.6],[2285.12,-2038.65],[2285.35,-2038.6],[2285.6,-2038.65],[2285.78,-2038.62],[2283.55,-2038.85],[2284.2,-2038.8],[2284.42,-2038.75],[2284.6,-2038.82],[2284.8,-2038.78],[2285,-2038.85],[2285.22,-2038.78],[2285.45,-2038.85],[2283.85,-2039.0],[2284.0,-2038.95],[2284.35,-2039],[2284.55,-2038.92],[2284.75,-2039],[2285.05,-2038.95],[2285.28,-2039.02],[2285.5,-2039.02],[2285.75,-2039],[2284.5,-2039.28],[2283.95,-2039.3],[2284.1,-2039.28],[2284.4,-2039.4],[2285.55,-2039.25],[2285.65,-2039.25],[2285.83,-2039.4],[2285.92,-2039.3],[2286.4,-2039.05],[2285.88,-2039.28],[2285.25,-2039.33],[2285.32,-2039.35],[2286.35,-2039.55],[2285.72,-2039.6],[2285.7,-2039.75],[2282.8,-2039.82],[2284.58,-2039.85],[2285.45,-2040.25],[2285.88,-2040.1],[2286,-2040.2],[2286.08,-2040.25],[2286.1,-2040.45],[2286.04,-2040.6],[2286.7,-2040.25],[2286.65,-2040.65]];
const ekfWarningDense=[[2283.6,-2037.4],[2283.8,-2037.38],[2284,-2037.42],[2284.15,-2037.38],[2284.4,-2037.36],[2284.6,-2037.42],[2283.4,-2037.62],[2283.62,-2037.6],[2283.92,-2037.6],[2284.12,-2037.56],[2284.3,-2037.6],[2284.5,-2037.58],[2284.8,-2037.6],[2285.0,-2037.62],[2283.3,-2037.82],[2283.55,-2037.85],[2283.78,-2037.82],[2284,-2037.82],[2284.2,-2037.84],[2284.4,-2037.82],[2284.6,-2037.84],[2284.82,-2037.82],[2285.05,-2037.82],[2285.25,-2037.84],[2285.45,-2037.82],[2283.65,-2038.02],[2283.85,-2038.02],[2284.05,-2038],[2284.22,-2038.02],[2284.4,-2038],[2284.6,-2038.02],[2284.8,-2038],[2285,-2038.02],[2285.2,-2038],[2285.4,-2038.02],[2285.6,-2038],[2283.68,-2038.2],[2283.9,-2038.18],[2284.1,-2038.2],[2284.3,-2038.18],[2284.5,-2038.2],[2284.7,-2038.18],[2284.9,-2038.2],[2285.1,-2038.18],[2285.3,-2038.2],[2285.5,-2038.18],[2285.72,-2038.2],[2285.95,-2038.2],[2284,-2038.38],[2284.2,-2038.36],[2284.4,-2038.38],[2284.58,-2038.36],[2284.78,-2038.38],[2284.98,-2038.36],[2285.2,-2038.38],[2285.42,-2038.36],[2285.65,-2038.38],[2284.1,-2038.55],[2284.4,-2038.52],[2284.6,-2038.54],[2284.8,-2038.52],[2285,-2038.55],[2285.22,-2038.52],[2285.45,-2038.55],[2284.3,-2038.72],[2284.5,-2038.7],[2284.7,-2038.72],[2284.92,-2038.7],[2285.12,-2038.72],[2285.32,-2038.7]];
const ekfNominal=[[2283.5,-2036.45],[2284.6,-2036.93],[2285.1,-2036.9],[2284.96,-2037.15],[2284.25,-2037.55],[2285.55,-2037.42],[2285.38,-2037.65],[2284.55,-2037.9],[2284.6,-2038],[2285.02,-2037.98],[2286.55,-2037.98],[2286.2,-2038.1],[2284.65,-2038.1],[2285.05,-2038.2],[2285.15,-2038.28],[2285.26,-2038.5],[2286.1,-2038.35],[2286.2,-2038.35],[2286.33,-2038.35],[2286.5,-2038.42],[2286.65,-2038.3],[2285.85,-2038.45],[2285.98,-2038.45],[2284.6,-2038.58],[2284.7,-2038.6],[2284.75,-2038.55],[2284.62,-2038.65],[2284.25,-2038.65],[2285.45,-2038.6],[2286.2,-2038.75],[2285.5,-2038.9],[2285.58,-2038.85],[2286.2,-2039.02],[2284.5,-2039.05],[2284.96,-2039.12],[2285.2,-2039.2],[2286.2,-2039],[2286.55,-2039.15],[2286.15,-2039.35],[2286.6,-2039.55],[2284.0,-2039.15]];

const ukfCritical=[[2280.96,-2035.88],[2280.78,-2036.19],[2282.28,-2036.08],[2282.93,-2036.11],[2281.21,-2036.36],[2280.17,-2036.45],[2281.92,-2036.49],[2281.57,-2036.57],[2280.31,-2036.83],[2282.18,-2036.83],[2281.51,-2037],[2281.37,-2037.17],[2282.39,-2037.1],[2282.42,-2037.18],[2282.63,-2037.16],[2281.84,-2037.26],[2280.61,-2037.23],[2282.44,-2037.29],[2280.78,-2037.34],[2280.82,-2037.39],[2281.65,-2037.36],[2281.67,-2037.41],[2282.79,-2037.2],[2282.7,-2037.32],[2282.87,-2037.2],[2280.9,-2037.55],[2281.18,-2037.62],[2281.13,-2037.72],[2280.96,-2037.74],[2280.55,-2037.75],[2281.74,-2037.71],[2282.25,-2037.41],[2282.21,-2037.67],[2282.18,-2037.62],[2282.53,-2037.53],[2282.63,-2037.62],[2282.56,-2037.76],[2281.1,-2037.86],[2281.08,-2038],[2281.17,-2038.05],[2280.66,-2038.03],[2281.53,-2037.86],[2281.43,-2037.99],[2281.58,-2038.12],[2282.07,-2037.86],[2282.18,-2037.88],[2282.25,-2038],[2282.32,-2038.1],[2282.28,-2038.2],[2282.35,-2038],[2282.46,-2037.95],[2282.21,-2038.1],[2282.63,-2037.9],[2282.8,-2037.86],[2282.87,-2037.9],[2283.02,-2037.95],[2283.02,-2038.05],[2282.67,-2038.1],[2282.84,-2038.05],[2281.94,-2038.1],[2282.04,-2038.2],[2281.76,-2038.29],[2281.83,-2038.22],[2280.79,-2038.31],[2281.2,-2038.29],[2281.34,-2038.29],[2281.27,-2038.34],[2280.89,-2038.43],[2281.23,-2038.43],[2280.38,-2038.45],[2280.58,-2038.5],[2281.3,-2038.55],[2281.34,-2038.65],[2281.48,-2038.6],[2281.92,-2038.5],[2282.14,-2038.67],[2282.07,-2038.62],[2282.63,-2038.62],[2282.67,-2038.65],[2282.63,-2038.77],[2282.46,-2038.48],[2282.35,-2038.41],[2282.87,-2038.48],[2283.02,-2038.29],[2283.12,-2038.34],[2283.47,-2038.36],[2283.54,-2038.39],[2280.74,-2038.65],[2280.82,-2038.72],[2280.94,-2038.7],[2281.09,-2038.74],[2280.95,-2038.72],[2280.53,-2038.77],[2280.64,-2038.88],[2280.72,-2038.95],[2280.9,-2038.95],[2281.44,-2038.77],[2281.48,-2038.91],[2281.67,-2038.77],[2281.44,-2039],[2281.94,-2038.86],[2282.07,-2038.88],[2282.07,-2039],[2281.87,-2039.05],[2281.67,-2039.04],[2282.5,-2038.88],[2282.97,-2039],[2283.07,-2039.13],[2283.19,-2039.26],[2283.43,-2038.88],[2283.75,-2039.09],[2279.28,-2038.9],[2280.75,-2039.2],[2281.24,-2039.15],[2281.4,-2039.22],[2280.17,-2039.18],[2280.4,-2039.33],[2281.06,-2039.3],[2281.06,-2039.42],[2281.06,-2039.51],[2281.13,-2039.53],[2280.9,-2039.51],[2280.99,-2039.6],[2281.27,-2039.36],[2281.3,-2039.5],[2281.57,-2039.36],[2281.74,-2039.24],[2281.76,-2039.36],[2282.76,-2039.31],[2283.43,-2039.42],[2280.7,-2039.58],[2280.71,-2039.62],[2280.66,-2039.76],[2280.8,-2039.79],[2280.92,-2039.74],[2281.06,-2039.74],[2280.69,-2039.93],[2282.07,-2039.58],[2282.32,-2039.62],[2282.43,-2039.54],[2281.65,-2039.6],[2281.67,-2039.65],[2281.58,-2039.74],[2281.47,-2039.84],[2280.88,-2040.07],[2280.61,-2040.29],[2281.09,-2040.27],[2281.26,-2040.14],[2281.43,-2040.19],[2281.44,-2040.36],[2281.65,-2040.29],[2281.77,-2040.14],[2281.94,-2040.09],[2282.18,-2040.02],[2282.58,-2039.84],[2282.74,-2040.26],[2283.02,-2040.41],[2279.75,-2040.25],[2281.03,-2040.63],[2281.61,-2040.63],[2284.8,-2040.77],[2279.77,-2041.27],[2281.23,-2041.83],[2281.6,-2041.4],[2281.09,-2041.12],[2283.58,-2039.55],[2282.42,-2037.86],[2282.5,-2037.98],[2282.56,-2038.02],[2282.48,-2038.12],[2282.74,-2037.96],[2282.95,-2038.02],[2281.02,-2039.46],[2281.1,-2039.44],[2280.98,-2039.38],[2281.02,-2039.55]];
const ukfWarning=[[2283.47,-2035.28],[2282.21,-2035.77],[2282.95,-2036.0],[2283.4,-2036.2],[2282.08,-2036.55],[2283.78,-2036.3],[2282.6,-2036.3],[2282.55,-2036.45],[2283.1,-2036.45],[2283.72,-2036.42],[2284.28,-2036.35],[2284.42,-2036.45],[2283.06,-2036.65],[2282.28,-2036.7],[2283.4,-2036.7],[2283.55,-2036.72],[2283.85,-2036.6],[2284.38,-2036.75],[2285.5,-2036.55],[2286.2,-2036.85],[2282.6,-2036.95],[2282.72,-2036.9],[2283.9,-2036.95],[2284.2,-2036.95],[2284.35,-2037],[2284.7,-2036.95],[2284.85,-2036.92],[2285.0,-2036.98],[2283.22,-2037],[2283.42,-2037.02],[2283.7,-2037.05],[2283.9,-2037.12],[2282.18,-2037.3],[2282.85,-2037.2],[2282.95,-2037.3],[2283.2,-2037.3],[2283.45,-2037.2],[2283.6,-2037.25],[2283.8,-2037.2],[2284,-2037.15],[2284.15,-2037.22],[2284.35,-2037.18],[2284.55,-2037.15],[2284.8,-2037.2],[2285,-2037.15],[2285.35,-2037.3],[2285.7,-2037.25],[2285.95,-2037.3],[2286.05,-2037.2],[2286.1,-2037.25],[2286.25,-2037.25],[2282.9,-2037.5],[2283.35,-2037.48],[2283.6,-2037.5],[2283.85,-2037.4],[2284.05,-2037.45],[2284.22,-2037.4],[2284.8,-2037.38],[2284.95,-2037.42],[2285.08,-2037.38],[2285.2,-2037.45],[2285.5,-2037.45],[2285.65,-2037.5],[2285.82,-2037.55],[2285.98,-2037.42],[2282.2,-2037.7],[2283.0,-2037.62],[2283.3,-2037.62],[2283.7,-2037.62],[2283.95,-2037.6],[2284.1,-2037.66],[2284.3,-2037.58],[2284.5,-2037.65],[2284.7,-2037.6],[2284.9,-2037.65],[2285.05,-2037.58],[2285.25,-2037.65],[2285.45,-2037.62],[2285.55,-2037.68],[2285.72,-2037.62],[2286.35,-2037.62],[2286.6,-2037.72],[2282.8,-2037.88],[2283.3,-2037.8],[2283.55,-2037.8],[2283.75,-2037.85],[2283.98,-2037.8],[2284.2,-2037.85],[2284.4,-2037.78],[2284.6,-2037.85],[2284.8,-2037.8],[2285.05,-2037.85],[2285.25,-2037.8],[2285.45,-2037.85],[2285.65,-2037.8],[2285.8,-2037.85],[2286.95,-2038],[2283.42,-2038],[2283.6,-2038.05],[2283.8,-2038],[2284,-2038],[2284.2,-2038.05],[2284.42,-2038],[2284.62,-2038.05],[2284.82,-2038],[2285.05,-2038.05],[2285.25,-2038],[2285.45,-2038.05],[2285.65,-2038],[2285.85,-2038.05],[2286.55,-2038.25],[2283.6,-2038.22],[2283.8,-2038.2],[2284,-2038.25],[2284.22,-2038.18],[2284.4,-2038.25],[2284.6,-2038.18],[2284.82,-2038.25],[2285,-2038.2],[2285.2,-2038.25],[2285.42,-2038.2],[2285.62,-2038.25],[2285.82,-2038.2],[2286.15,-2038.28],[2286.3,-2038.5],[2286.55,-2038.55],[2283.3,-2038.65],[2283.55,-2038.5],[2283.8,-2038.42],[2284.02,-2038.45],[2284.2,-2038.4],[2284.42,-2038.48],[2284.6,-2038.42],[2284.8,-2038.48],[2285,-2038.42],[2285.22,-2038.48],[2285.42,-2038.42],[2285.62,-2038.5],[2285.82,-2038.45],[2286.1,-2038.5],[2286.72,-2038.55],[2284.08,-2038.65],[2284.3,-2038.62],[2284.52,-2038.68],[2284.72,-2038.62],[2284.95,-2038.68],[2285.15,-2038.62],[2285.35,-2038.68],[2285.55,-2038.62],[2285.75,-2038.7],[2282.9,-2038.9],[2283.05,-2038.85],[2284.18,-2038.82],[2284.42,-2038.85],[2284.6,-2038.82],[2284.82,-2038.85],[2285.05,-2038.78],[2285.3,-2038.85],[2286.5,-2038.75],[2286.52,-2038.85],[2283.6,-2039.05],[2284.05,-2039.05],[2284.25,-2039.0],[2284.5,-2039],[2284.72,-2039.02],[2285.02,-2039],[2285.2,-2039],[2285.75,-2039],[2285.85,-2038.98],[2285.98,-2039.15],[2286.1,-2039.1],[2283.85,-2039.2],[2285.1,-2039.2],[2285.35,-2039.3],[2285.58,-2039.3],[2286.27,-2039.4],[2286.7,-2039.4],[2284.45,-2039.42],[2285.95,-2039.62],[2286.22,-2039.55],[2284.67,-2039.85],[2285.9,-2040.38],[2286.05,-2040.2],[2286.25,-2040.35],[2286.42,-2040.0],[2286.8,-2040.2],[2286.5,-2040.45],[2282.77,-2040.0]];
const ukfWarningDense=[[2284.02,-2037.32],[2284.2,-2037.3],[2284.4,-2037.32],[2284.6,-2037.35],[2283.52,-2037.38],[2283.72,-2037.52],[2283.92,-2037.5],[2284.14,-2037.52],[2284.34,-2037.5],[2284.52,-2037.52],[2284.72,-2037.5],[2283.42,-2037.7],[2283.62,-2037.72],[2283.85,-2037.7],[2284.08,-2037.72],[2284.28,-2037.7],[2284.5,-2037.72],[2284.7,-2037.72],[2284.92,-2037.72],[2285.12,-2037.72],[2285.35,-2037.72],[2283.5,-2037.92],[2283.68,-2037.92],[2283.9,-2037.92],[2284.1,-2037.92],[2284.3,-2037.92],[2284.5,-2037.92],[2284.72,-2037.92],[2284.92,-2037.92],[2285.15,-2037.92],[2285.35,-2037.92],[2285.55,-2037.92],[2285.75,-2037.92],[2283.7,-2038.12],[2283.9,-2038.12],[2284.1,-2038.12],[2284.32,-2038.12],[2284.52,-2038.12],[2284.72,-2038.12],[2284.92,-2038.12],[2285.12,-2038.12],[2285.32,-2038.12],[2285.55,-2038.12],[2285.75,-2038.12],[2285.95,-2038.12],[2283.92,-2038.32],[2284.12,-2038.32],[2284.32,-2038.32],[2284.52,-2038.32],[2284.72,-2038.32],[2284.92,-2038.32],[2285.12,-2038.32],[2285.32,-2038.32],[2285.52,-2038.32],[2285.72,-2038.32],[2285.95,-2038.35],[2284.2,-2038.52],[2284.42,-2038.56],[2284.62,-2038.54],[2284.85,-2038.56],[2285.05,-2038.53],[2285.28,-2038.56],[2285.48,-2038.54],[2285.7,-2038.56],[2284.52,-2038.75],[2284.72,-2038.76],[2284.95,-2038.74],[2285.18,-2038.76],[2285.42,-2038.76],[2285.62,-2038.76]];
const ukfNominal=[[2284.0,-2036.2],[2285.05,-2036.7],[2285.3,-2036.95],[2284.4,-2037],[2284.42,-2037.3],[2285.5,-2037.27],[2285.05,-2037.55],[2286.5,-2037.8],[2284.55,-2037.9],[2284.7,-2037.98],[2285.0,-2038.0],[2285.1,-2038],[2286.0,-2037.95],[2284.6,-2038.15],[2285.7,-2038.2],[2285.75,-2038.3],[2285.9,-2038.25],[2286.0,-2038.3],[2286.45,-2038.15],[2286.32,-2038.2],[2284.7,-2038.4],[2284.88,-2038.42],[2284.78,-2038.6],[2285.6,-2038.55],[2285.4,-2038.6],[2286.05,-2038.65],[2283.95,-2038.58],[2285.5,-2038.78],[2284.55,-2038.85],[2286.03,-2039],[2285.08,-2039.03],[2285.1,-2039.2],[2283.5,-2039.2],[2286.3,-2039.25],[2286.08,-2039.05],[2285.2,-2039.25],[2286.1,-2039.3],[2286.32,-2039.3],[2284.82,-2039.12],[2285.7,-2039.35]];

const pointRadius=8.7;
const pointOpacity=0.65;
const SVGNS="http://www.w3.org/2000/svg";

function svgEl(tag,attrs,parent){
  const el=document.createElementNS(SVGNS,tag);
  for(const k in attrs){el.setAttribute(k,attrs[k]);}
  parent.appendChild(el);
  return el;
}
function intersect(a,b){
  const d1x=a[1][0]-a[0][0],d1y=a[1][1]-a[0][1],d2x=b[1][0]-b[0][0],d2y=b[1][1]-b[0][1];
  const t=((b[0][0]-a[0][0])*d2y-(b[0][1]-a[0][1])*d2x)/(d1x*d2y-d1y*d2x);
  return [a[0][0]+t*d1x,a[0][1]+t*d1y];
}

function drawPanel(key,groupId,left,top,critical,warning,nominal,ellipseCrit,ellipseWarn,ellipseNom){
  const g=document.getElementById(groupId);
  const W=1062,H=664;
  const X=v=>left+(v-xLimits[0])/(xLimits[1]-xLimits[0])*W;
  const Y=v=>top+(yLimits[1]-v)/(yLimits[1]-yLimits[0])*H;
  const pts=a=>a.map(p=>X(p[0]).toFixed(2)+","+Y(p[1]).toFixed(2)).join(" ");

  const clip=svgEl("clipPath",{id:"clip-"+key},g);
  svgEl("rect",{x:left,y:top,width:W,height:H},clip);
  const plot=svgEl("g",{"clip-path":"url(#clip-"+key+")"},g);
  
  

  const bg=svgEl("rect",{x:left,y:top,width:W,height:H,fill:"#fbf7e9"},plot);
  
  

  const cross=intersect(boundaryWarnNom,boundaryCritWarn);
  const xMax=xLimits[1],yMax=yLimits[1],yMin=yLimits[0];
  const solidTop=boundaryWarnNom[1],solidBottom=boundaryWarnNom[0];
  const dashTop=boundaryCritWarn[0],dashBottom=boundaryCritWarn[1];
  const nomPoly=svgEl("polygon",{points:pts([dashTop,[xMax,yMax],[xMax,solidTop[1]],cross]),fill:"#f7fdf6"},plot);
  
  
  const warnPoly=svgEl("polygon",{points:pts([cross,[xMax,solidTop[1]],[xMax,yMin],[dashBottom[0],yMin]]),fill:"#fefeed"},plot);
  
  
  const pinkPoly=svgEl("polygon",{points:pts([cross,[dashBottom[0],yMin],solidBottom]),fill:"#fdf5f6"},plot);
  
  

  xTicks.forEach(function(t){
    const l=svgEl("line",{x1:X(t),x2:X(t),y1:top,y2:top+H,stroke:"#262626","stroke-opacity":0.07,"stroke-width":1.6},plot);
    
    
  });
  yTicks.forEach(function(t){
    const l=svgEl("line",{x1:left,x2:left+W,y1:Y(t),y2:Y(t),stroke:"#262626","stroke-opacity":0.07,"stroke-width":1.6},plot);
    
    
  });

  [[critical,"#ff0000","critical-point"],[warning,"#ff8000","warning-point"],[nominal,"#00b400","nominal-point"]].forEach(function(s){
    s[0].forEach(function(p){
      const c=svgEl("circle",{cx:X(p[0]).toFixed(2),cy:Y(p[1]).toFixed(2),r:pointRadius,fill:s[1],"fill-opacity":pointOpacity},plot);
      
      
    });
  });

  [[ellipseCrit,"#ff0000","critical-ellipse"],[ellipseWarn,"#ff8000","warning-ellipse"],[ellipseNom,"#00b000","nominal-ellipse"]].forEach(function(e){
    const d=e[0],cx=d[0],cy=d[1],rx=d[2],ry=d[3],rho=d[4],s=Math.sqrt(1-rho*rho),line=[];
    for(let i=0;i<=180;i++){
      const a=i/180*2*Math.PI;
      line.push([cx+rx*Math.cos(a),cy+ry*(rho*Math.cos(a)+s*Math.sin(a))]);
    }
    const el=svgEl("polyline",{points:pts(line),fill:"none",stroke:e[1],"stroke-width":5.5},plot);
    
    
  });

  const solid=svgEl("line",{x1:X(solidBottom[0]),y1:Y(solidBottom[1]),x2:X(solidTop[0]),y2:Y(solidTop[1]),stroke:"#000","stroke-width":6.7},g);
  
  
  const dash=svgEl("line",{x1:X(dashTop[0]),y1:Y(dashTop[1]),x2:X(dashBottom[0]),y2:Y(dashBottom[1]),stroke:"#000","stroke-width":5.6,"stroke-dasharray":"25 24"},g);
  
  

  [ellipseCrit,ellipseWarn,ellipseNom].forEach(function(e){
    const mx=X(e[0]),my=Y(e[1]),h=12.5;
    const m=svgEl("path",{d:"M"+(mx-h)+" "+(my-h)+"L"+(mx+h)+" "+(my+h)+"M"+(mx-h)+" "+(my+h)+"L"+(mx+h)+" "+(my-h),fill:"none",stroke:"#000","stroke-width":7},g);
    
    
  });

  const box=svgEl("rect",{x:left,y:top,width:W,height:H,fill:"none",stroke:"#262626","stroke-opacity":0.65,"stroke-width":2},g);
  
  

  xTicks.forEach(function(t,i){
    const d="M"+X(t)+" "+(top+H)+"v-10M"+X(t)+" "+top+"v10";
    const tk=svgEl("path",{d:d,stroke:"#262626","stroke-opacity":0.7,"stroke-width":1.4,fill:"none"},g);
    
    
    const lb=svgEl("text",{x:X(t),y:top+H+37,"font-size":25.6,fill:"#262626","text-anchor":"middle"},g);
    lb.textContent=xTickLabels[i];
    
    
  });
  yTicks.forEach(function(t,i){
    const d="M"+left+" "+Y(t)+"h10M"+(left+W)+" "+Y(t)+"h-10";
    const tk=svgEl("path",{d:d,stroke:"#262626","stroke-opacity":0.7,"stroke-width":1.4,fill:"none"},g);
    
    
    const lb=svgEl("text",{x:left-11,y:Y(t)+9,"font-size":25.6,fill:"#262626","text-anchor":"end"},g);
    lb.textContent=yTickLabels[i];
    
    
  });
}

drawPanel("arx","panel-arx",154,184.5,arxCritical,arxWarning.concat(arxWarningDense),arxNominal,arxEllipseCritical,arxEllipseWarning,arxEllipseNominal);
drawPanel("lkf","panel-lkf",1553,184.5,lkfCritical,lkfWarning.concat(lkfWarningDense),lkfNominal,lkfEllipseCritical,lkfEllipseWarning,lkfEllipseNominal);
drawPanel("ekf","panel-ekf",154,1106.5,ekfCritical,ekfWarning.concat(ekfWarningDense),ekfNominal,ekfEllipseCritical,ekfEllipseWarning,ekfEllipseNominal);
drawPanel("ukf","panel-ukf",1553,1106.5,ukfCritical,ukfWarning.concat(ukfWarningDense),ukfNominal,ukfEllipseCritical,ukfEllipseWarning,ukfEllipseNominal);
</script>
</body>
</html>
